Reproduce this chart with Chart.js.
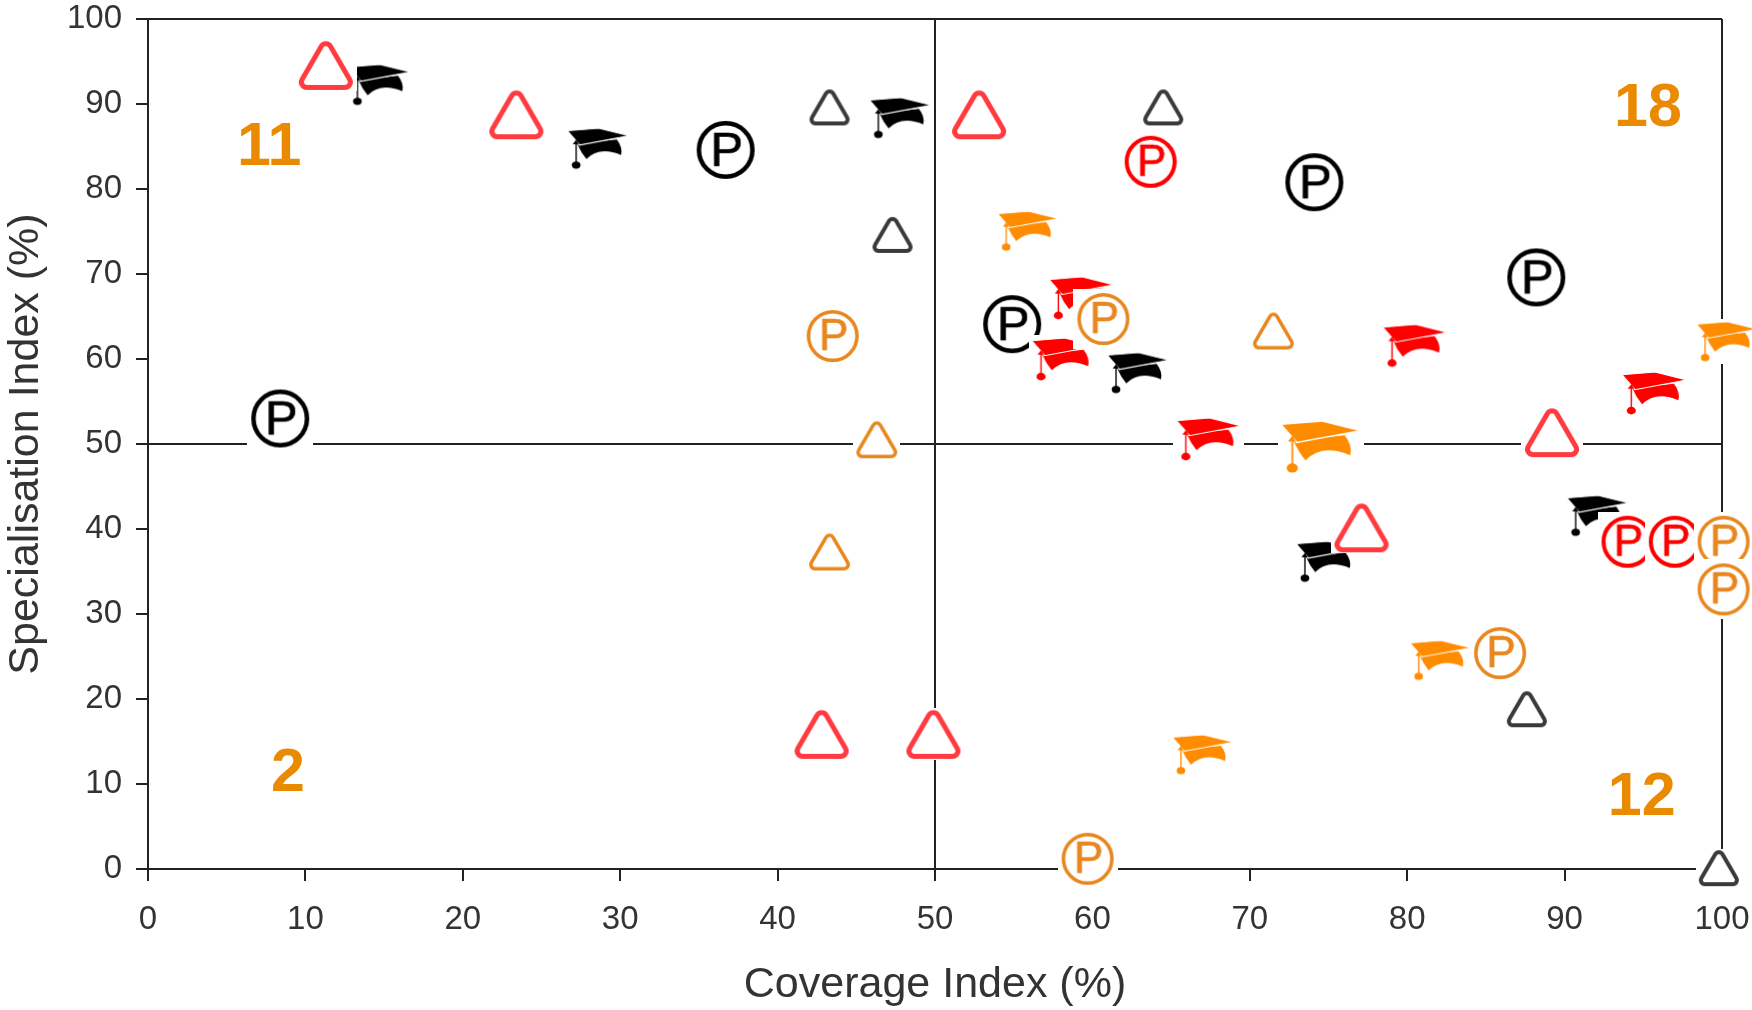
<!DOCTYPE html>
<html lang="en">
<head>
  <meta charset="UTF-8">
  <title>Coverage vs Specialisation Index</title>
  <script src="https://cdn.jsdelivr.net/npm/chart.js"></script>
  <style>
    html, body { margin: 0; padding: 0; background: white; overflow: hidden; }
    canvas { display: block; }
  </style>
</head>
<body>
  <canvas id="chart" width="1752" height="1010"></canvas>
  <script>
    // values as [coverage, specialisation]
    const triRed = [[11.3, 94.6], [23.4, 88.8], [52.8, 88.8], [89.2, 51.4], [77.1, 40.2], [42.8, 15.9], [49.9, 15.9]];
    const triBlack = [[43.3, 89.6], [47.3, 74.6], [64.5, 89.6], [87.6, 18.8], [99.8, 0.1]];
    const triOrange = [[46.3, 50.5], [43.3, 37.3], [71.5, 63.3]];
    const patBlack = [[36.7, 84.6], [74.1, 80.8], [88.2, 69.6], [54.9, 64.1], [8.4, 53]];
    const patRed = [[63.7, 83.2], [94, 38.5], [97, 38.5]];
    const patOrange = [[43.5, 62.7], [60.7, 64.7], [100.1, 38.5], [100.1, 32.9], [85.9, 25.4], [59.7, 1.2]];
    const hatBlack = [[14.7, 92.3], [28.6, 84.8], [47.8, 88.4], [62.9, 58.4], [74.9, 36.2], [92.1, 41.6]];
    const hatRed = [[59.3, 67.2], [58.2, 60], [67.4, 50.6], [80.5, 61.6], [95.7, 56]];
    const hatOrange = [[55.9, 75.1], [82.1, 24.6], [67, 13.5], [100.3, 62.1]];
    const hatOrangeLarge = [[74.5, 49.7]];
    const quadrantCounts = [['11', 7.7, 84.8], ['18', 95.3, 89.4], ['2', 8.9, 11.1], ['12', 94.9, 8.3]];
    const axisTicks = [0, 10, 20, 30, 40, 50, 60, 70, 80, 90, 100];

    const RED = '#ff0000', TRI_RED = '#ff3b40', ORANGE = '#ff8c00', P_ORANGE = '#e8871e', DARK = '#222222';

    function blank(w, h) {
      const c = document.createElement('canvas');
      c.width = w; c.height = h;
      const g = c.getContext('2d');
      g.fillStyle = 'white';
      g.fillRect(0, 0, w, h);
      return [c, g];
    }

    // the marks in the picture are pasted icons with a white box behind them
    function triangleIcon(w, color, lw) {
      const h = Math.round(w * 0.86);
      const [c, g] = blank(w + 2, h);
      const p = lw / 2, r = w * 0.09;
      const l = p, rt = w + 2 - p, t = p - 3, b = h - p - 1, m = (w + 2) / 2;
      g.strokeStyle = color; g.lineWidth = lw; g.lineJoin = 'round';
      g.beginPath();
      g.moveTo(m, b);
      g.arcTo(rt, b, m, t, r);
      g.arcTo(m, t, l, b, r);
      g.arcTo(l, b, m, b, r);
      g.closePath();
      g.stroke();
      return c;
    }

    function patentIcon(d, color, lw) {
      const s = d + 8;
      const [c, g] = blank(s, s);
      g.strokeStyle = color; g.lineWidth = lw;
      g.beginPath();
      g.arc(s / 2, s / 2, d / 2 - lw / 2, 0, Math.PI * 2);
      g.stroke();
      g.fillStyle = color;
      g.font = Math.round(d * 0.84) + 'px "Liberation Sans"';
      g.textAlign = 'center'; g.textBaseline = 'middle';
      g.lineWidth = 0.6;
      g.fillText('P', s / 2 + 1, s / 2 + 2);
      g.strokeText('P', s / 2 + 1, s / 2 + 2);
      return c;
    }

    function hatIcon(w, color) {
      const h = Math.round(w * 0.64);
      const [c, g] = blank(w + 6, h + 6);
      g.translate(3, 3);
      g.scale(w, h);
      g.fillStyle = color;
      // cap, draped at both sides
      g.beginPath();
      g.moveTo(0.16, 0.38);
      g.quadraticCurveTo(0.22, 0.6, 0.31, 0.77);
      g.quadraticCurveTo(0.52, 0.44, 0.87, 0.67);
      g.quadraticCurveTo(0.9, 0.48, 0.8, 0.28);
      g.closePath();
      g.fill();
      // board
      g.strokeStyle = 'white'; g.lineWidth = 0.025;
      g.beginPath();
      g.moveTo(0, 0.065);
      g.lineTo(0.51, 0);
      g.lineTo(1, 0.19);
      g.lineTo(0.2, 0.42);
      g.closePath();
      g.fill();
      g.stroke();
      // tassel
      g.strokeStyle = color; g.lineWidth = 0.022;
      g.beginPath();
      g.moveTo(0.145, 0.33);
      g.lineTo(0.145, 0.9);
      g.stroke();
      g.beginPath();
      g.moveTo(0.09, 0.4);
      g.lineTo(0.145, 0.29);
      g.lineTo(0.19, 0.4);
      g.closePath();
      g.fill();
      g.beginPath();
      g.ellipse(0.145, 0.92, 0.07, 0.09, 0, 0, Math.PI * 2);
      g.fill();
      return c;
    }

    const toPoints = pairs => pairs.map(([x, y]) => ({ x, y }));
    const series = (label, pairs, icon) => ({
      label, data: toPoints(pairs), pointStyle: icon, pointRadius: icon.width / 2,
      pointHoverRadius: icon.width / 2, showLine: false, clip: false
    });

    // text in data coordinates, so it follows the scales
    const countLabels = {
      id: 'countLabels',
      afterDatasetsDraw(chart) {
        const { ctx, scales: { x, y } } = chart;
        ctx.save();
        ctx.fillStyle = '#e98a00';
        ctx.font = 'bold 61px "Liberation Sans"';
        ctx.textAlign = 'center';
        ctx.textBaseline = 'middle';
        quadrantCounts.forEach(([t, vx, vy]) => ctx.fillText(t, x.getPixelForValue(vx), y.getPixelForValue(vy)));
        ctx.restore();
      }
    };

    const quadrantGrid = {
      drawOnChartArea: true,
      lineWidth: 2,
      tickLength: 12,
      tickColor: DARK,
      color: c => (c.tick.value === 50 || c.tick.value === 100) ? DARK : 'rgba(0,0,0,0)'
    };

    new Chart(document.getElementById('chart'), {
      type: 'scatter',
      data: {
        // first dataset is painted last
        datasets: [
          series('Patents orange', patOrange, patentIcon(52, P_ORANGE, 3.5)),
          series('Patents red', patRed, patentIcon(52, RED, 4)),
          series('Triangles red', triRed, triangleIcon(60, TRI_RED, 5)),
          series('Triangles black', triBlack, triangleIcon(44, '#3a3a3a', 4)),
          series('Triangles orange', triOrange, triangleIcon(45, P_ORANGE, 3.5)),
          series('Hats orange large', hatOrangeLarge, hatIcon(80, ORANGE)),
          series('Hats orange', hatOrange, hatIcon(61, ORANGE)),
          series('Hats red', hatRed, hatIcon(65, RED)),
          series('Hats black', hatBlack, hatIcon(62, '#000000')),
          series('Patents black', patBlack, patentIcon(58, '#000000', 4.5))
        ]
      },
      options: {
        responsive: false,
        animation: false,
        layout: { autoPadding: false, padding: { top: 19, right: 30, left: 0, bottom: 0 } },
        plugins: { legend: { display: false }, tooltip: { enabled: false } },
        scales: {
          x: {
            type: 'linear', min: 0, max: 100,
            afterBuildTicks: s => { s.ticks = axisTicks.map(value => ({ value })); },
            afterFit: s => { s.height = 141; s.paddingLeft = 0; s.paddingRight = 0; },
            border: { color: DARK, width: 2 },
            grid: quadrantGrid,
            ticks: { color: '#333333', maxRotation: 0, padding: 19, font: { family: 'Liberation Sans', size: 33 } },
            title: { display: true, text: 'Coverage Index (%)', color: '#333333', padding: { top: 17 }, font: { family: 'Liberation Sans', size: 43, lineHeight: 0.95 } }
          },
          y: {
            type: 'linear', min: 0, max: 100,
            afterBuildTicks: s => { s.ticks = axisTicks.map(value => ({ value })); },
            afterFit: s => { s.width = 148; s.paddingTop = 0; s.paddingBottom = 0; },
            border: { color: DARK, width: 2 },
            grid: quadrantGrid,
            ticks: { color: '#333333', padding: 14, font: { family: 'Liberation Sans', size: 33 } },
            title: { display: true, text: 'Specialisation Index (%)', color: '#333333', padding: 0, font: { family: 'Liberation Sans', size: 43 } }
          }
        }
      },
      plugins: [countLabels]
    });
  </script>
</body>
</html>
